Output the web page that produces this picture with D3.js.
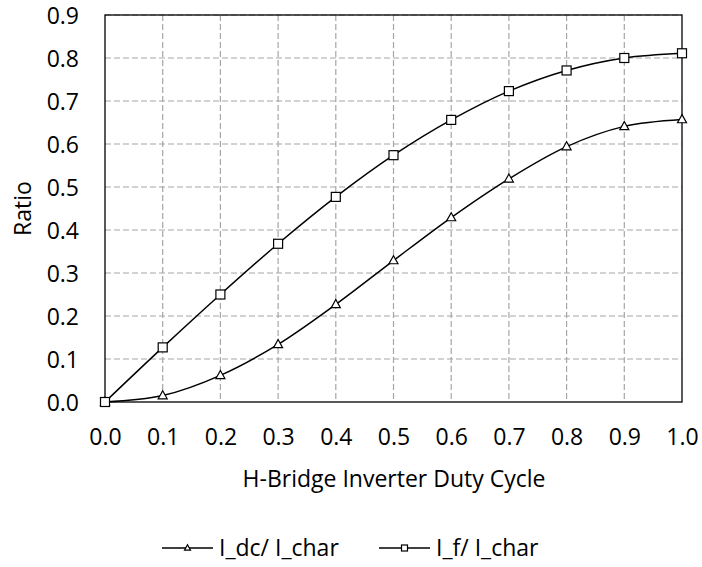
<!DOCTYPE html>
<html>
<head>
<meta charset="utf-8">
<script src="https://cdn.jsdelivr.net/npm/d3@7"></script>
<style>
  html, body { margin: 0; padding: 0; background: #fff; }
  svg { display: block; }
  text { font-family: "Open Sans", "Noto Sans", sans-serif; fill: #000; }
</style>
</head>
<body>
<svg id="chart" width="702" height="567"></svg>
<script>
// Duty cycle values (x) and the two current ratios
const dutyCycle = [0.0, 0.1, 0.2, 0.3, 0.4, 0.5, 0.6, 0.7, 0.8, 0.9, 1.0];
const iDcRatio  = [0.000, 0.015, 0.062, 0.134, 0.227, 0.329, 0.429, 0.519, 0.594, 0.641, 0.657];
const iFRatio   = [0.000, 0.127, 0.250, 0.368, 0.477, 0.574, 0.656, 0.723, 0.771, 0.800, 0.811];
const xTicks = [0.0, 0.1, 0.2, 0.3, 0.4, 0.5, 0.6, 0.7, 0.8, 0.9, 1.0];
const yTicks = [0.0, 0.1, 0.2, 0.3, 0.4, 0.5, 0.6, 0.7, 0.8, 0.9];
const seriesNames = ["I_dc/ I_char", "I_f/ I_char"];
const seriesMarkers = ["triangle", "square"];

const FS = 23;
const svg = d3.select("#chart");
const plot = { left: 105, right: 682, top: 15, bottom: 402 };

const x = d3.scaleLinear().domain([0, 1]).range([plot.left, plot.right]);
const y = d3.scaleLinear().domain([0, 0.9]).range([plot.bottom, plot.top]);

// dashed grid
const grid = svg.append("g").attr("stroke", "#a6a6a6").attr("stroke-width", 1.2)
  .attr("stroke-dasharray", "6,3");
grid.selectAll("line.v").data(xTicks.slice(1, -1)).join("line")
  .attr("x1", d => x(d)).attr("x2", d => x(d))
  .attr("y1", plot.top).attr("y2", plot.bottom);
grid.selectAll("line.h").data(yTicks.slice(1)).join("line")
  .attr("x1", plot.left).attr("x2", plot.right)
  .attr("y1", d => y(d)).attr("y2", d => y(d));

// plot frame
svg.append("rect")
  .attr("x", plot.left).attr("y", plot.top)
  .attr("width", plot.right - plot.left).attr("height", plot.bottom - plot.top)
  .attr("fill", "none").attr("stroke", "#000").attr("stroke-width", 1.3);

// axes (labels only, frame drawn above)
const xAxis = d3.axisBottom(x).tickValues(xTicks).tickFormat(d3.format(".1f")).tickSize(0).tickPadding(0);
svg.append("g").attr("transform", `translate(0,${plot.bottom})`).call(xAxis)
  .call(g => g.select(".domain").remove())
  .selectAll("text").attr("font-size", FS).attr("font-family", null)
  .attr("y", 43).attr("dy", null);

const yAxis = d3.axisLeft(y).tickValues(yTicks).tickFormat(d3.format(".1f")).tickSize(0).tickPadding(0);
svg.append("g").attr("transform", `translate(${plot.left},0)`).call(yAxis)
  .call(g => g.select(".domain").remove())
  .selectAll("text").attr("font-size", FS).attr("font-family", null)
  .attr("x", -26).attr("dy", "0.35em");

// axis titles
svg.append("text").attr("x", (plot.left + plot.right) / 2 + 0.5).attr("y", 487)
  .attr("text-anchor", "middle").attr("font-size", FS).text("H-Bridge Inverter Duty Cycle");
svg.append("text").attr("transform", `translate(31,${(plot.top + plot.bottom) / 2}) rotate(-90)`)
  .attr("text-anchor", "middle").attr("font-size", FS).text("Ratio");

// series
const line = d3.line().x(d => x(d[0])).y(d => y(d[1])).curve(d3.curveCatmullRom.alpha(0.5));
const series = [iDcRatio, iFRatio].map((vals, i) => ({
  name: seriesNames[i], marker: seriesMarkers[i],
  points: dutyCycle.map((d, j) => [d, vals[j]])
}));

function drawMarker(sel, type, size) {
  if (type === "square") {
    sel.append("rect").attr("x", -size / 2).attr("y", -size / 2)
      .attr("width", size).attr("height", size)
      .attr("fill", "#fff").attr("stroke", "#000").attr("stroke-width", 1.2);
  } else {
    const h = size * 0.9;
    sel.append("path")
      .attr("d", `M0,${-h * 0.6}L${size / 2},${h * 0.4}L${-size / 2},${h * 0.4}Z`)
      .attr("fill", "#fff").attr("stroke", "#000").attr("stroke-width", 1.2);
  }
}

series.forEach(s => {
  svg.append("path").datum(s.points).attr("d", line)
    .attr("fill", "none").attr("stroke", "#000").attr("stroke-width", 1.5);
  svg.append("g").selectAll("g").data(s.points).join("g")
    .attr("transform", d => `translate(${x(d[0])},${y(d[1])})`)
    .each(function () { drawMarker(d3.select(this), s.marker, 9); });
});

// legend
const legendX = [162, 379];
series.forEach((s, i) => {
  const g = svg.append("g").attr("transform", `translate(${legendX[i]},548)`);
  g.append("line").attr("x1", 0).attr("x2", 51).attr("y1", 0).attr("y2", 0)
    .attr("stroke", "#000").attr("stroke-width", 1.5);
  const m = g.append("g").attr("transform", "translate(25.5,0)");
  drawMarker(m, s.marker, 6);
  g.append("text").attr("x", 57).attr("y", 0).attr("dy", "0.35em")
    .attr("font-size", FS).text(s.name);
});
</script>
</body>
</html>
